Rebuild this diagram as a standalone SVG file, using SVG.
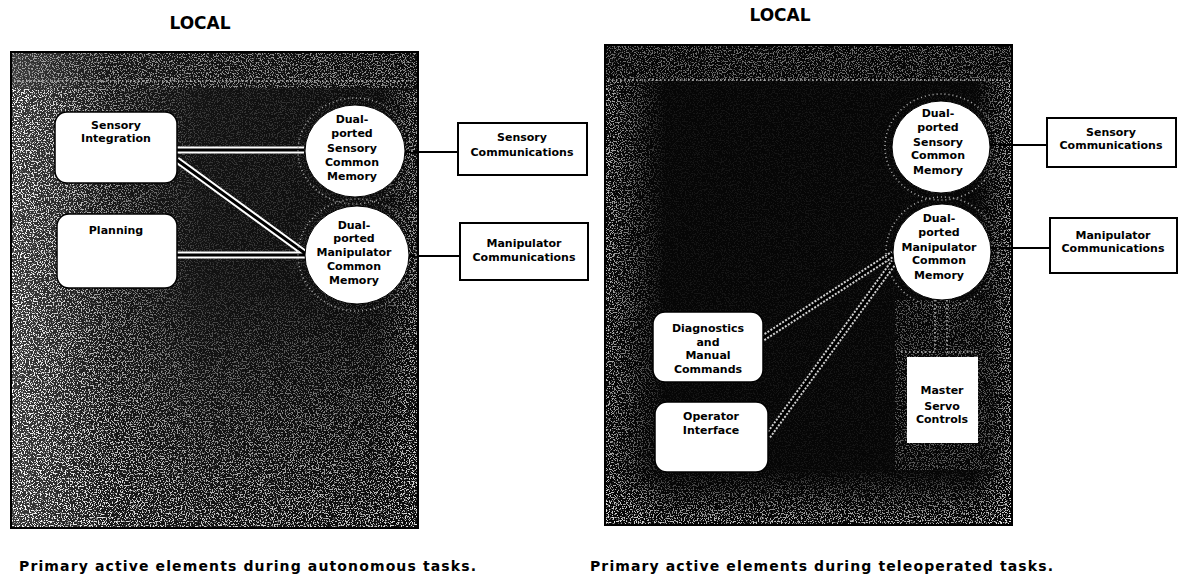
<svg xmlns="http://www.w3.org/2000/svg" width="1180" height="580" viewBox="0 0 1180 580">
<defs>
<style>
.t{font-family:"DejaVu Sans","Liberation Sans",sans-serif;font-weight:bold;font-size:11px;text-anchor:middle;fill:#000}
.h{font-family:"DejaVu Sans","Liberation Sans",sans-serif;font-weight:bold;font-size:17px;text-anchor:middle;fill:#000}
.cap{font-family:"DejaVu Sans","Liberation Sans",sans-serif;font-weight:bold;font-size:14px;fill:#000}
.frame{stroke:#000;stroke-width:2}
.box{fill:#fff;stroke:#000;stroke-width:2}
.rbox{fill:#fff;stroke:#000;stroke-width:1.5}
.mem{fill:#fff;stroke:#000;stroke-width:1}
.halo{fill:none;stroke:#aaa;stroke-width:1.6;stroke-dasharray:1 3}
.link{stroke:#000;stroke-width:2;fill:none}
.pw{stroke:#fff;stroke-width:7;fill:none}
.pb{stroke:#000;stroke-width:3;fill:none}
.pd{stroke:#d0d0d0;stroke-width:7;fill:none;stroke-dasharray:2 1.5}
.dot{stroke:#bbb;stroke-width:1.5;fill:none;stroke-dasharray:1.5 2.5}
</style>
<filter id="speck" x="0" y="0" width="1" height="1">
<feTurbulence type="fractalNoise" baseFrequency="0.75" numOctaves="2" seed="7" result="n"/>
<feColorMatrix in="n" type="matrix" values="0 0 0 0 1 0 0 0 0 1 0 0 0 0 1 10 0 0 0 -5.2"/>
</filter>
<linearGradient id="gBaseL" x1="0" y1="0" x2="1" y2="0">
<stop offset="0" stop-color="#3a3a3a"/><stop offset="0.25" stop-color="#161616"/><stop offset="1" stop-color="#0a0a0a"/>
</linearGradient>
<linearGradient id="gFadeR" x1="0" y1="0" x2="1" y2="0">
<stop offset="0" stop-color="#fff" stop-opacity="1"/><stop offset="1" stop-color="#fff" stop-opacity="0"/>
</linearGradient>
<linearGradient id="gFadeL" x1="0" y1="0" x2="1" y2="0">
<stop offset="0" stop-color="#fff" stop-opacity="0"/><stop offset="1" stop-color="#fff" stop-opacity="1"/>
</linearGradient>
<linearGradient id="gFadeD" x1="0" y1="0" x2="0" y2="1">
<stop offset="0" stop-color="#fff" stop-opacity="0"/><stop offset="1" stop-color="#fff" stop-opacity="0.75"/>
</linearGradient>
<mask id="mL" maskUnits="userSpaceOnUse" x="0" y="0" width="1180" height="580">
<rect x="11" y="52" width="407" height="476" fill="#262626"/>
<rect x="11" y="52" width="190" height="476" fill="url(#gFadeR)"/>
<rect x="11" y="52" width="407" height="36" fill="#8a8a8a"/>
<rect x="11" y="290" width="407" height="238" fill="url(#gFadeD)"/>
<rect x="380" y="90" width="38" height="438" fill="url(#gFadeL)" opacity="0.6"/>
</mask>
<mask id="mR" maskUnits="userSpaceOnUse" x="0" y="0" width="1180" height="580">
<rect x="605" y="45" width="407" height="480" fill="#101010"/>
<rect x="605" y="45" width="60" height="480" fill="url(#gFadeR)" opacity="0.7"/>
<rect x="605" y="45" width="407" height="36" fill="#6a6a6a"/>
<rect x="605" y="470" width="407" height="55" fill="url(#gFadeD)"/>
<rect x="975" y="80" width="37" height="445" fill="url(#gFadeL)" opacity="0.7"/>
<rect x="895" y="300" width="100" height="170" fill="#555"/>
</mask>
</defs>

<g id="titles">
<text class="h" x="200" y="29">LOCAL</text>
<text class="h" x="780" y="21">LOCAL</text>
</g>

<g id="panel-left">
<rect class="frame" x="11" y="52" width="407" height="476" fill="url(#gBaseL)"/>
<rect x="11" y="52" width="407" height="476" fill="#fff" filter="url(#speck)" mask="url(#mL)"/>
<line class="dot" x1="14" y1="81" x2="414" y2="81"/>
<rect x="11" y="52" width="407" height="476" fill="none" stroke="#000" stroke-width="2"/>
</g>

<g id="panel-right">
<rect class="frame" x="605" y="45" width="407" height="480" fill="#060606"/>
<rect x="605" y="45" width="407" height="480" fill="#fff" filter="url(#speck)" mask="url(#mR)"/>
<line class="dot" x1="608" y1="80" x2="1008" y2="80"/>
<rect x="605" y="45" width="407" height="480" fill="none" stroke="#000" stroke-width="2"/>
</g>

<g id="connectors">
<path class="pw" d="M177 150 H304 M177 160 L306 254 M177 255 H305"/>
<path class="pb" d="M177 150 H304 M177 160 L306 254 M177 255 H305"/>
<path class="link" d="M405 152 H458 M409 256 H460"/>
<path class="pd" d="M763 338 L893 254 M768 436 L894 262"/>
<path class="pb" d="M763 338 L893 254 M768 436 L894 262"/>
<path class="dot" d="M935 300 V352 M947 300 V352 M901 352 H935 M947 352 H978"/>
<path class="link" d="M990 145 H1047 M991 248 H1050"/>
</g>

<g id="node-sensory-integration">
<rect class="rbox" x="55" y="112" width="122" height="71" rx="12"/>
<text class="t" x="116" y="129">Sensory</text>
<text class="t" x="116" y="142">Integration</text>
</g>
<g id="node-planning">
<rect class="rbox" x="57" y="214" width="120" height="74" rx="12"/>
<text class="t" x="116" y="234">Planning</text>
</g>
<g id="node-left-sensory-memory">
<ellipse class="halo" cx="355" cy="151" rx="57" ry="53"/>
<ellipse class="mem" cx="355" cy="151" rx="50" ry="46"/>
<text class="t" x="352" y="123">Dual-</text>
<text class="t" x="352" y="137">ported</text>
<text class="t" x="352" y="152">Sensory</text>
<text class="t" x="352" y="166">Common</text>
<text class="t" x="352" y="180">Memory</text>
</g>
<g id="node-left-manipulator-memory">
<ellipse class="halo" cx="357" cy="255" rx="59" ry="56"/>
<ellipse class="mem" cx="357" cy="255" rx="52" ry="49"/>
<text class="t" x="354" y="229">Dual-</text>
<text class="t" x="354" y="242">ported</text>
<text class="t" x="354" y="256">Manipulator</text>
<text class="t" x="354" y="270">Common</text>
<text class="t" x="354" y="284">Memory</text>
</g>
<g id="node-left-sensory-comm">
<rect class="box" x="458" y="123" width="129" height="52"/>
<text class="t" x="522" y="141">Sensory</text>
<text class="t" x="522" y="156">Communications</text>
</g>
<g id="node-left-manipulator-comm">
<rect class="box" x="460" y="223" width="128" height="57"/>
<text class="t" x="524" y="247">Manipulator</text>
<text class="t" x="524" y="261">Communications</text>
</g>

<g id="node-right-sensory-memory">
<ellipse class="halo" cx="941" cy="147" rx="56" ry="53"/>
<ellipse class="mem" cx="941" cy="147" rx="49" ry="46"/>
<text class="t" x="938" y="117">Dual-</text>
<text class="t" x="938" y="131">ported</text>
<text class="t" x="938" y="146">Sensory</text>
<text class="t" x="938" y="159">Common</text>
<text class="t" x="938" y="174">Memory</text>
</g>
<g id="node-right-manipulator-memory">
<ellipse class="halo" cx="942" cy="252" rx="56" ry="55"/>
<ellipse class="mem" cx="942" cy="252" rx="49" ry="48"/>
<text class="t" x="939" y="222">Dual-</text>
<text class="t" x="939" y="236">ported</text>
<text class="t" x="939" y="251">Manipulator</text>
<text class="t" x="939" y="264">Common</text>
<text class="t" x="939" y="279">Memory</text>
</g>
<g id="node-right-sensory-comm">
<rect class="box" x="1047" y="118" width="129" height="49"/>
<text class="t" x="1111" y="136">Sensory</text>
<text class="t" x="1111" y="149">Communications</text>
</g>
<g id="node-right-manipulator-comm">
<rect class="box" x="1050" y="218" width="127" height="55"/>
<text class="t" x="1113" y="239">Manipulator</text>
<text class="t" x="1113" y="252">Communications</text>
</g>
<g id="node-diagnostics">
<rect class="rbox" x="653" y="312" width="110" height="70" rx="12"/>
<text class="t" x="708" y="332">Diagnostics</text>
<text class="t" x="708" y="346">and</text>
<text class="t" x="708" y="359">Manual</text>
<text class="t" x="708" y="373">Commands</text>
</g>
<g id="node-operator-interface">
<rect class="rbox" x="655" y="402" width="113" height="70" rx="12"/>
<text class="t" x="711" y="420">Operator</text>
<text class="t" x="711" y="434">Interface</text>
</g>
<g id="node-master-servo">
<rect x="907" y="357" width="71" height="86" fill="#fff"/>
<text class="t" x="942" y="394">Master</text>
<text class="t" x="942" y="410">Servo</text>
<text class="t" x="942" y="423">Controls</text>
</g>

<g id="captions">
<text class="cap" x="19" y="571" textLength="457" lengthAdjust="spacing">Primary active elements during autonomous tasks.</text>
<text class="cap" x="590" y="571" textLength="463" lengthAdjust="spacing">Primary active elements during teleoperated tasks.</text>
</g>
</svg>
